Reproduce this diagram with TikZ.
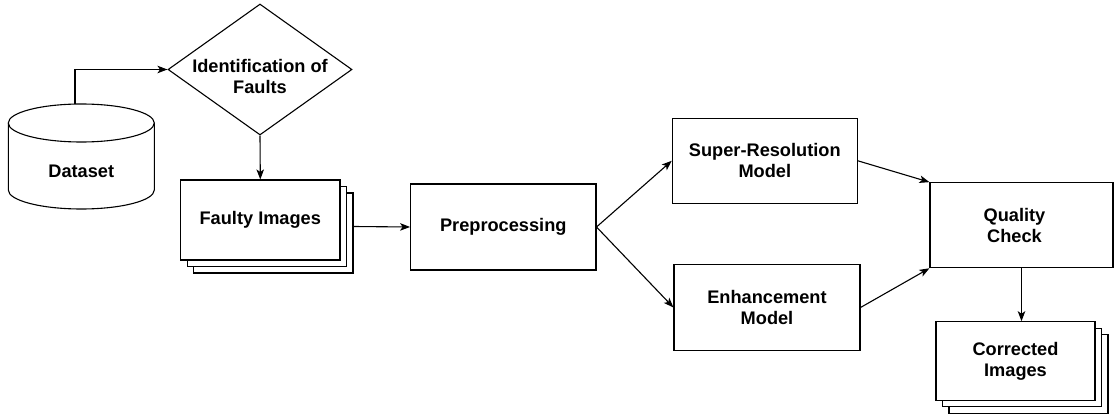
\documentclass[tikz,border=0pt]{standalone}
\usepackage{fontspec}
\setmainfont{Liberation Sans}
\usetikzlibrary{shapes.geometric,shadows,arrows.meta}

\tikzset{
  lbl/.style={font=\fontsize{18.2}{21}\selectfont\bfseries, align=center, inner sep=0pt},
  box/.style={draw, fill=white, line width=1.1pt, inner sep=0pt, lbl},
  stack/.style={box, double copy shadow={shadow xshift=6.5pt, shadow yshift=-6.5pt}},
  arr/.style={line width=1.1pt, -{Stealth[length=10pt, width=7.5pt, inset=2.5pt]}},
}

\begin{document}
\begin{tikzpicture}[x=1pt, y=-1pt]
\useasboundingbox (0,0) rectangle (1114,414);

% database cylinder
\draw[fill=white, line width=1.1pt] (8.3,123) -- (8.3,190)
  arc[start angle=180, end angle=360, x radius=73pt, y radius=19pt] -- (154.3,123);
\draw[line width=1.1pt] (81.3,123) ellipse [x radius=73pt, y radius=19pt];
\node[minimum width=146pt, minimum height=105pt, inner sep=0pt,
      label={[lbl, yshift=-15.2pt]center:Dataset}] (dataset) at (81.3,156.5) {};

% decision
\node[diamond, draw, fill=white, line width=1.1pt, inner sep=0pt, aspect=1.4,
      minimum width=184pt, minimum height=131pt,
      label={[lbl, yshift=-7pt]center:{Identification of\\Faults}}] (ident) at (260,69.5) {};

% process boxes
\node[stack, minimum width=159.3pt, minimum height=80pt] (faulty) at (260.3,220) {Faulty Images};
\node[box, minimum width=185.3pt, minimum height=86pt] (pre) at (503.3,227) {Preprocessing};
\node[box, minimum width=185pt, minimum height=85pt] (sr) at (764.8,160.8) {Super-Resolution\\Model};
\node[box, minimum width=186pt, minimum height=86.4pt] (enh) at (767,307.5) {Enhancement\\Model};
\node[box, minimum width=183pt, minimum height=85pt,
      label={[lbl, xshift=-7pt]center:{Quality\\Check}}] (qc) at (1021.5,225.2) {};
\node[stack, minimum width=159pt, minimum height=78.3pt] (corr) at (1015.5,360.9) {Corrected\\Images};

% connectors
\draw[arr] ([xshift=-6.3pt]dataset.north) |- (ident.west);
\draw[arr] (ident.south) -- (faulty.north);
\draw[arr] ([xshift=13pt, yshift=-6.5pt]faulty.east) -- (pre.west);
\draw[arr] (pre.east) -- (sr.west);
\draw[arr] (pre.east) -- (enh.west);
\draw[arr] (sr.east) -- (qc.north west);
\draw[arr] (enh.east) -- (qc.south west);
\draw[arr] (qc.south) -- (qc.south |- corr.north);
\end{tikzpicture}
\end{document}
